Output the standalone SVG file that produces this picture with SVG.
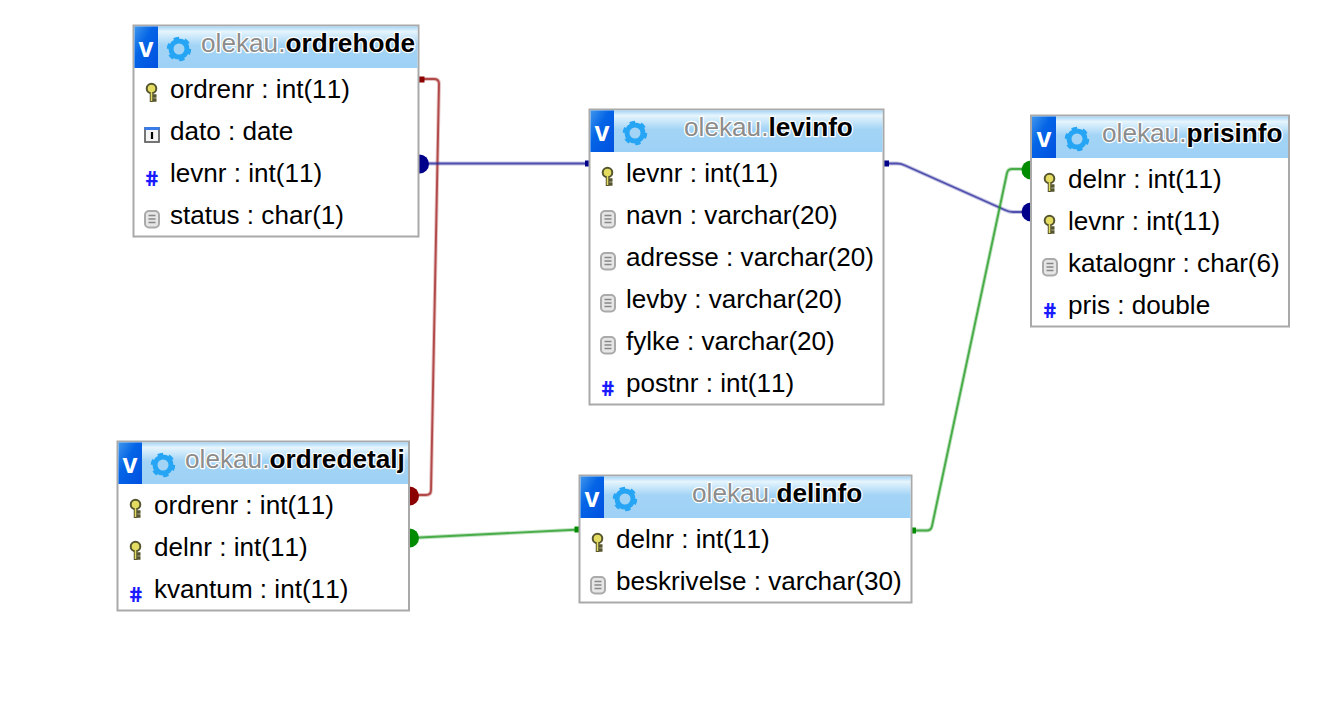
<svg xmlns="http://www.w3.org/2000/svg" xmlns:xlink="http://www.w3.org/1999/xlink" width="1344" height="726" viewBox="0 0 1344 726">
<style>
text{font-family:"Liberation Sans",Arial,sans-serif;font-kerning:none}
.box{fill:#fff;stroke:#a9a9a9;stroke-width:2}
.hd{fill:url(#hg)}
.vb{fill:url(#vg)}
.v{fill:#fff;font-size:27px;font-weight:bold;text-anchor:middle}
.t{font-size:26.1px;fill:#000}
.ti{font-size:26.2px;paint-order:stroke;stroke:#fff;stroke-width:2.5px;stroke-linejoin:round}
.db{fill:#8c8c8c}
.tb{fill:#000;font-weight:bold}
.h{font-family:"DejaVu Sans Mono",monospace;font-size:21px;font-weight:bold;fill:#1a1aff;text-anchor:middle;transform-box:fill-box;transform-origin:center;transform:skewX(11deg)}
.halo{fill:none;stroke-width:3.8;stroke-opacity:.28;stroke-linejoin:round}
.ln{fill:none;stroke-width:1.9;stroke-opacity:.75;stroke-linejoin:round}
</style>
<defs>
<linearGradient id="hg" x1="0" y1="0" x2="0" y2="1"><stop offset="0" stop-color="#a6d5f6"/><stop offset=".12" stop-color="#e6f5fd"/><stop offset=".45" stop-color="#a3d4f6"/><stop offset="1" stop-color="#9dd1f5"/></linearGradient>
<linearGradient id="vg" x1="0" y1="0" x2="1" y2="1"><stop offset="0" stop-color="#3f96ec"/><stop offset=".4" stop-color="#0464e6"/><stop offset="1" stop-color="#0050e0"/></linearGradient>
<g id="gear"><circle r="8" fill="none" stroke="#27a5f5" stroke-width="5"/><circle r="11" fill="none" stroke="#27a5f5" stroke-width="2.5" stroke-dasharray="5.500 6"/></g>
<g id="key"><circle cx="0" cy="-4.500" r="4.800" fill="#e4dc60" stroke="#55552f" stroke-width="2"/><path d="M0 -1V9M0 3H5M0 7H5" stroke="#55552f" stroke-width="3.500" fill="none"/><path d="M0 -1V8" stroke="#e4dc60" stroke-width="1.500"/></g>
<g id="doc"><rect x="-7" y="-8" width="14" height="16.500" rx="4" fill="#e6e6e6" stroke="#aaa" stroke-width="2"/><path d="M-3.500 -3.500H3.500M-3.500 0H3.500M-3.500 3.500H3.500" stroke="#888" stroke-width="1.400"/></g>
<g id="cal"><rect x="-7" y="-7" width="14" height="14" fill="#f4f4f4" stroke="#666" stroke-width="1.800"/><rect x="-7.500" y="-8" width="15" height="3" fill="#3a7bea"/><path d="M0 -3V4" stroke="#000" stroke-width="2.200"/></g>
</defs>
<rect width="1344" height="726" fill="#fff"/>
<g id="connectors">
<path class="halo" stroke="#a02020" d="M420 79H434Q439 79 439 84L431 490Q431 495 426 495H412"/>
<path class="ln" stroke="#a02020" d="M420 79H434Q439 79 439 84L431 490Q431 495 426 495H412"/>
<rect x="418" y="76.500" width="6.500" height="6" fill="#8b0000"/>
<circle cx="409.500" cy="496" r="9.500" fill="#8b0000"/>
<path class="halo" stroke="#2a2a9c" d="M420 163.500H590"/>
<path class="ln" stroke="#2a2a9c" d="M420 163.500H590"/>
<circle cx="419.500" cy="164" r="9.500" fill="#00008b"/>
<rect x="585" y="160.500" width="6" height="6" fill="#00008b"/>
<path class="halo" stroke="#2a2a9c" d="M884 163.500H897Q901 163.500 904 165L1005 210Q1009 212 1013 212H1030"/>
<path class="ln" stroke="#2a2a9c" d="M884 163.500H897Q901 163.500 904 165L1005 210Q1009 212 1013 212H1030"/>
<rect x="883" y="160.500" width="6" height="6" fill="#00008b"/>
<circle cx="1031" cy="212" r="9.500" fill="#00008b"/>
<path class="halo" stroke="#1f9a1f" d="M410 538L580 529.500"/>
<path class="ln" stroke="#1f9a1f" d="M410 538L580 529.500"/>
<circle cx="409.500" cy="538" r="9.500" fill="#008b00"/>
<rect x="574.500" y="526.500" width="6" height="6" fill="#008b00"/>
<path class="halo" stroke="#1f9a1f" d="M912 530.500H927Q931 530.500 932 526L1007 173Q1008 169 1012 169H1030"/>
<path class="ln" stroke="#1f9a1f" d="M912 530.500H927Q931 530.500 932 526L1007 173Q1008 169 1012 169H1030"/>
<rect x="911" y="527.500" width="5" height="6" fill="#008b00"/>
<circle cx="1031" cy="170" r="9.500" fill="#008b00"/>
</g>
<g id="ordrehode">
<rect class="box" x="133.500" y="25.500" width="285" height="211"/>
<rect class="hd" x="134.500" y="26.500" width="283" height="41.500"/>
<rect class="vb" x="134.500" y="26.500" width="23.500" height="41.500"/>
<text class="v" x="146" y="57">v</text>
<use xlink:href="#gear" x="179" y="49"/>
<text class="ti" x="201" y="52"><tspan class="db">olekau.</tspan><tspan class="tb">ordrehode</tspan></text>
<use xlink:href="#key" x="151.500" y="93"/><text class="t" x="170" y="98">ordrenr : int(11)</text>
<use xlink:href="#cal" x="152" y="135"/><text class="t" x="170" y="140">dato : date</text>
<text class="h" x="152" y="186">#</text><text class="t" x="170" y="182">levnr : int(11)</text>
<use xlink:href="#doc" x="152" y="219"/><text class="t" x="170" y="224">status : char(1)</text>
</g>
<g id="levinfo">
<rect class="box" x="589.500" y="109.500" width="294" height="295"/>
<rect class="hd" x="590.500" y="110.500" width="292" height="41.500"/>
<rect class="vb" x="590.500" y="110.500" width="23.500" height="41.500"/>
<text class="v" x="602" y="141">v</text>
<use xlink:href="#gear" x="635" y="133"/>
<text class="ti" x="684" y="136"><tspan class="db">olekau.</tspan><tspan class="tb">levinfo</tspan></text>
<use xlink:href="#key" x="607.500" y="177"/><text class="t" x="626" y="182">levnr : int(11)</text>
<use xlink:href="#doc" x="608" y="219"/><text class="t" x="626" y="224">navn : varchar(20)</text>
<use xlink:href="#doc" x="608" y="261"/><text class="t" x="626" y="266">adresse : varchar(20)</text>
<use xlink:href="#doc" x="608" y="303"/><text class="t" x="626" y="308">levby : varchar(20)</text>
<use xlink:href="#doc" x="608" y="345"/><text class="t" x="626" y="350">fylke : varchar(20)</text>
<text class="h" x="608" y="396">#</text><text class="t" x="626" y="392">postnr : int(11)</text>
</g>
<g id="prisinfo">
<rect class="box" x="1031" y="115.500" width="258" height="211"/>
<rect class="hd" x="1032" y="116.500" width="256" height="41.500"/>
<rect class="vb" x="1032" y="116.500" width="24" height="41.500"/>
<text class="v" x="1044" y="147">v</text>
<use xlink:href="#gear" x="1077" y="139"/>
<text class="ti" x="1102" y="142"><tspan class="db">olekau.</tspan><tspan class="tb">prisinfo</tspan></text>
<use xlink:href="#key" x="1049.500" y="183"/><text class="t" x="1068" y="188">delnr : int(11)</text>
<use xlink:href="#key" x="1049.500" y="225"/><text class="t" x="1068" y="230">levnr : int(11)</text>
<use xlink:href="#doc" x="1050" y="267"/><text class="t" x="1068" y="272">katalognr : char(6)</text>
<text class="h" x="1050" y="318">#</text><text class="t" x="1068" y="314">pris : double</text>
</g>
<g id="ordredetalj">
<rect class="box" x="117.500" y="441.500" width="291.500" height="169"/>
<rect class="hd" x="118.500" y="442.500" width="289.500" height="41.500"/>
<rect class="vb" x="118.500" y="442.500" width="23.500" height="41.500"/>
<text class="v" x="130" y="473">v</text>
<use xlink:href="#gear" x="163" y="465"/>
<text class="ti" x="185" y="468"><tspan class="db">olekau.</tspan><tspan class="tb">ordredetalj</tspan></text>
<use xlink:href="#key" x="135.500" y="509"/><text class="t" x="154" y="514">ordrenr : int(11)</text>
<use xlink:href="#key" x="135.500" y="551"/><text class="t" x="154" y="556">delnr : int(11)</text>
<text class="h" x="136" y="602">#</text><text class="t" x="154" y="598">kvantum : int(11)</text>
</g>
<g id="delinfo">
<rect class="box" x="579.500" y="475.500" width="332" height="127"/>
<rect class="hd" x="580.500" y="476.500" width="330" height="41.500"/>
<rect class="vb" x="580.500" y="476.500" width="23.500" height="41.500"/>
<text class="v" x="592" y="507">v</text>
<use xlink:href="#gear" x="625" y="499"/>
<text class="ti" x="692" y="502"><tspan class="db">olekau.</tspan><tspan class="tb">delinfo</tspan></text>
<use xlink:href="#key" x="597.500" y="543"/><text class="t" x="616" y="548">delnr : int(11)</text>
<use xlink:href="#doc" x="598" y="585"/><text class="t" x="616" y="590">beskrivelse : varchar(30)</text>
</g>
</svg>
